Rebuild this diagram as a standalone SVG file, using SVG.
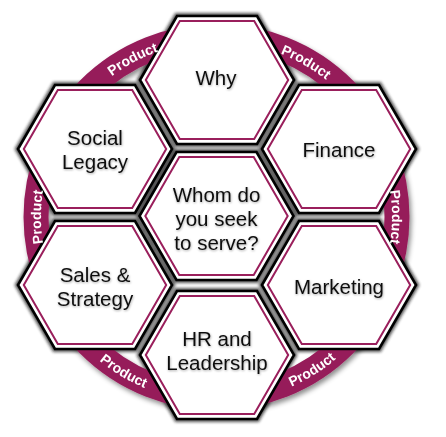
<svg xmlns="http://www.w3.org/2000/svg" xmlns:xlink="http://www.w3.org/1999/xlink" width="446" height="437" viewBox="0 0 446 437">
  <defs>
    <style>
      .lbl { font-family: "Liberation Sans", Arial, sans-serif; font-size: 20.5px; fill: #111; text-anchor: middle; }
      .prod { font-family: "Liberation Sans", Arial, sans-serif; font-size: 14px; font-weight: bold; fill: #fff; text-anchor: middle; }
      .outer { fill: #fff; stroke: #000; stroke-width: 2.6; stroke-linejoin: miter; }
      .inner { fill: none; stroke: #9a1f5c; stroke-width: 2; }
      .shade { fill: none; stroke: #1a1a1a; stroke-width: 6; }
    </style>
    <polygon id="hexO" points="-77,0 -40,-64 40,-64 77,0 40,64 -40,64"/>
    <polygon id="hexI" points="-71.2,0 -37.2,-59 37.2,-59 71.2,0 37.2,59 -37.2,59"/>
    <filter id="ringShadow" x="-10%" y="-10%" width="120%" height="120%">
      <feDropShadow dx="2" dy="3" stdDeviation="2.5" flood-color="#000" flood-opacity="0.45"/>
    </filter>
    <filter id="blur" x="-10%" y="-10%" width="120%" height="120%">
      <feGaussianBlur stdDeviation="1.6"/>
    </filter>
    <filter id="txtShadow" x="-10%" y="-20%" width="120%" height="140%">
      <feDropShadow dx="0.5" dy="1" stdDeviation="0.8" flood-color="#000" flood-opacity="0.35"/>
    </filter>
    <path id="p1" d="M67.7,124.0 A175.5,175.5 0 0 1 222.6,41.6"/>
    <path id="p2" d="M216.5,41.5 A175.5,175.5 0 0 1 368.5,129.25"/>
    <path id="p3" d="M368.5,129.25 A175.5,175.5 0 0 1 368.5,304.75"/>
    <path id="p4" d="M64.5,304.75 A175.5,175.5 0 0 1 64.5,129.25"/>
    <path id="p5" d="M54.3,306.9 A185.5,185.5 0 0 0 213.3,402.5"/>
    <path id="p6" d="M223.0,402.4 A185.5,185.5 0 0 0 380.3,304.1"/>
  </defs>

  <rect width="446" height="437" fill="#fff"/>

  <!-- bevel shading between hexes -->
  <g id="shading" filter="url(#blur)" opacity="0.75">
    <use href="#hexO" class="shade" transform="translate(217,80)"/>
    <use href="#hexO" class="shade" transform="translate(95,149)"/>
    <use href="#hexO" class="shade" transform="translate(339,149)"/>
    <use href="#hexO" class="shade" transform="translate(216.5,216)"/>
    <use href="#hexO" class="shade" transform="translate(95,285)"/>
    <use href="#hexO" class="shade" transform="translate(339,285)"/>
    <use href="#hexO" class="shade" transform="translate(217,355)"/>
  </g>

  <!-- ring -->
  <g id="ring">
    <circle cx="216.5" cy="217" r="180.5" fill="none" stroke="#961e5a" stroke-width="25" filter="url(#ringShadow)"/>
  </g>

  <!-- connectors (none; hexes abut each other) -->
  <g id="connectors"></g>

  <g id="why" transform="translate(217,80)">
    <use href="#hexO" class="outer"/>
    <use href="#hexI" class="inner"/>
    <text class="lbl" x="-1" y="5" filter="url(#txtShadow)">Why</text>
  </g>

  <g id="social-legacy" transform="translate(95,149)">
    <use href="#hexO" class="outer"/>
    <use href="#hexI" class="inner"/>
    <text class="lbl" x="0" y="-4" filter="url(#txtShadow)">Social</text>
    <text class="lbl" x="0" y="19.5" filter="url(#txtShadow)">Legacy</text>
  </g>

  <g id="finance" transform="translate(339,149)">
    <use href="#hexO" class="outer"/>
    <use href="#hexI" class="inner"/>
    <text class="lbl" x="0" y="8" filter="url(#txtShadow)">Finance</text>
  </g>

  <g id="center" transform="translate(216.5,216)">
    <use href="#hexO" class="outer"/>
    <use href="#hexI" class="inner"/>
    <text class="lbl" x="0" y="-14" filter="url(#txtShadow)">Whom do</text>
    <text class="lbl" x="0" y="9.5" filter="url(#txtShadow)">you seek</text>
    <text class="lbl" x="0" y="34" filter="url(#txtShadow)">to serve?</text>
  </g>

  <g id="sales-strategy" transform="translate(95,285)">
    <use href="#hexO" class="outer"/>
    <use href="#hexI" class="inner"/>
    <text class="lbl" x="0" y="-3" filter="url(#txtShadow)">Sales &amp;</text>
    <text class="lbl" x="0" y="21" filter="url(#txtShadow)">Strategy</text>
  </g>

  <g id="marketing" transform="translate(339,285)">
    <use href="#hexO" class="outer"/>
    <use href="#hexI" class="inner"/>
    <text class="lbl" x="0" y="9" filter="url(#txtShadow)">Marketing</text>
  </g>

  <g id="hr-leadership" transform="translate(217,355)">
    <use href="#hexO" class="outer"/>
    <use href="#hexI" class="inner"/>
    <text class="lbl" x="0" y="-9" filter="url(#txtShadow)">HR and</text>
    <text class="lbl" x="0" y="15" filter="url(#txtShadow)">Leadership</text>
  </g>

  <!-- ring labels drawn above hex outlines so they stay legible -->
  <g id="ring-labels">
    <text class="prod"><textPath xlink:href="#p1" href="#p1" startOffset="50%">Product</textPath></text>
    <text class="prod"><textPath xlink:href="#p2" href="#p2" startOffset="50%">Product</textPath></text>
    <text class="prod"><textPath xlink:href="#p3" href="#p3" startOffset="50%">Product</textPath></text>
    <text class="prod"><textPath xlink:href="#p4" href="#p4" startOffset="50%">Product</textPath></text>
    <text class="prod"><textPath xlink:href="#p5" href="#p5" startOffset="50%">Product</textPath></text>
    <text class="prod"><textPath xlink:href="#p6" href="#p6" startOffset="50%">Product</textPath></text>
  </g>
</svg>
